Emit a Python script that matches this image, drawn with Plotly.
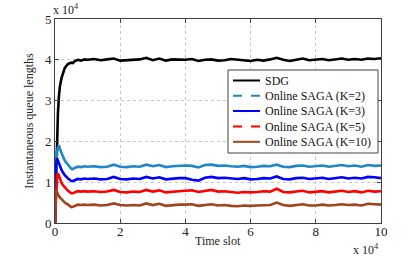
import plotly.graph_objects as go

# time slots
x_early = [0, 300, 600, 900, 1200, 1500, 2000, 2500, 3000, 4000, 5000, 5500, 6000, 7000, 8000, 9000]
x_late = list(range(10000, 100001, 2000))
time_slot = x_early + x_late

sdg = [0, 9000, 20000, 27000, 31000, 33500, 35500, 37000, 38000, 39000, 39300, 39200, 39600, 40000, 39800, 40100,
       40000, 40200, 39900, 40100, 40300, 39800, 39900, 40000, 40100, 40500,
       39900, 40300, 39800, 40100, 40000, 40000, 40200, 39700, 40000, 40100,
       39800, 39900, 40200, 40000, 39800, 39700, 40000, 39800, 40100, 40500,
       40000, 39700, 40000, 40300, 39900, 40000, 40200, 39900, 40100, 40300,
       40000, 40200, 40000, 40300, 40200, 40400]

saga_k2 = [0, 12000, 17500, 18500, 19000, 18200, 17000, 16200, 15300, 14200, 13300, 13200, 13500, 13800, 13700, 13900,
           13800, 13900, 13700, 13800, 14300, 13800, 13700, 13900, 13800, 14300,
           13900, 14200, 13700, 13900, 14000, 14100, 14000, 13600, 14200, 14300,
           14000, 14100, 13900, 13800, 14000, 13700, 13800, 14000, 13900, 14300,
           13800, 13700, 14000, 14100, 13800, 13900, 14100, 13800, 14000, 14200,
           13900, 14100, 13800, 14200, 14000, 14100]

saga_k3 = [0, 14000, 15900, 15300, 14500, 13800, 13000, 12300, 11700, 10900, 10300, 10300, 10500, 10800, 10700, 10900,
           10800, 10900, 10700, 10800, 11300, 10800, 10700, 10900, 10800, 11300,
           10900, 11200, 10700, 10900, 11000, 11000, 10600, 10400, 11100, 11300,
           11000, 11100, 10900, 10800, 11000, 10700, 10800, 11000, 10900, 11400,
           10800, 10700, 11000, 11100, 10800, 10900, 11100, 10800, 11000, 11200,
           10900, 11100, 10900, 11300, 11200, 11000]

saga_k5 = [0, 9000, 11500, 12200, 11500, 10800, 9800, 9200, 8700, 7900, 7300, 7300, 7500, 7800, 7700, 7800,
           7700, 7800, 7600, 7700, 8100, 7600, 7500, 7700, 7600, 8100,
           7700, 8000, 7500, 7700, 7800, 7900, 8000, 7600, 7800, 8100,
           7700, 7800, 7600, 7400, 7600, 7500, 7600, 7800, 7700, 8400,
           7600, 7500, 7700, 7900, 7500, 7600, 7800, 7500, 7700, 7900,
           7600, 7800, 7500, 7900, 7700, 7800]

saga_k10 = [0, 8000, 7600, 7000, 6600, 6300, 5800, 5400, 5000, 4500, 3900, 4000, 4200, 4500, 4400, 4500,
            4400, 4500, 4300, 4400, 4800, 4400, 4300, 4400, 4300, 4800,
            4400, 4700, 4200, 4400, 4500, 4500, 4600, 4200, 4400, 4600,
            4300, 4400, 4200, 4100, 4300, 4200, 4300, 4400, 4400, 5000,
            4400, 4200, 4400, 4600, 4300, 4300, 4500, 4300, 4400, 4600,
            4400, 4500, 4300, 4700, 4600, 4500]

x_tickvals = [0, 20000, 40000, 60000, 80000, 100000]
x_ticktext = ["0", "2", "4", "6", "8", "10"]
y_tickvals = [0, 10000, 20000, 30000, 40000, 50000]
y_ticktext = ["0", "1", "2", "3", "4", "5"]

series_names = ["SDG", "Online SAGA (K=2)", "Online SAGA (K=3)", "Online SAGA (K=5)", "Online SAGA (K=10)"]
series_values = [sdg, saga_k2, saga_k3, saga_k5, saga_k10]
series_colors = ["#000000", "#1f86c8", "#0000ff", "#ff0000", "#a0441c"]
series_dashes = ["solid", "dash", "solid", "dash", "solid"]

font_family = "Liberation Serif, Times New Roman, DejaVu Serif, serif"
txt_font = dict(family=font_family, size=12, color="#222")

fig = go.Figure()
for name, vals, color in zip(series_names, series_values, series_colors):
    fig.add_trace(go.Scatter(x=time_slot, y=vals, mode="lines", name=name, showlegend=False,
                             line=dict(color=color, width=2.6)))

# --- legend box (drawn manually to match the compact MATLAB legend) ---
W, H = 420, 256
L, R, T, B = 55, 39, 19, 33
pw, ph = W - L - R, H - T - B
def px(xp):
    return (xp - L) / pw
def py(yp):
    return (H - B - yp) / ph

shapes = [dict(type="rect", xref="paper", yref="paper", x0=px(228), x1=px(378), y0=py(153), y1=py(70),
               fillcolor="white", line=dict(color="#404040", width=1), layer="above")]
annotations = []
row_y = [80.5, 95.8, 111.0, 126.5, 141.8]
for name, color, dash, ry in zip(series_names, series_colors, series_dashes, row_y):
    shapes.append(dict(type="line", xref="paper", yref="paper", x0=px(233), x1=px(260), y0=py(ry), y1=py(ry),
                       line=dict(color=color, width=2, dash=dash), layer="above"))
    annotations.append(dict(text=name, x=px(263), y=py(ry), xref="paper", yref="paper",
                            xanchor="left", yanchor="middle", showarrow=False,
                            font=dict(family=font_family, size=12, color="#111")))

annotations += [
    dict(text="Time slot", x=0.5, y=py(241), xref="paper", yref="paper", xanchor="center", yanchor="middle",
         showarrow=False, font=txt_font),
    dict(text="x 10<sup>4</sup>", x=0, y=1, xref="paper", yref="paper", xanchor="left", yanchor="bottom",
         showarrow=False, font=txt_font, xshift=-4, yshift=0),
    dict(text="x 10<sup>4</sup>", x=1, y=py(249), xref="paper", yref="paper", xanchor="right", yanchor="middle",
         showarrow=False, font=txt_font),
]

axis_common = dict(showline=True, linecolor="#404040", linewidth=1, mirror="ticks",
                   ticks="inside", ticklen=4, tickcolor="#404040",
                   showgrid=True, gridcolor="#c8c8c8", griddash="dot", gridwidth=1,
                   zeroline=False, tickfont=dict(family=font_family, size=13, color="#222"))

fig.update_layout(
    width=W, height=H,
    margin=dict(l=L, r=R, t=T, b=B),
    paper_bgcolor="white", plot_bgcolor="white",
    font=dict(family=font_family, size=12, color="#222"),
    showlegend=False,
    xaxis=dict(range=[0, 100000], tickvals=x_tickvals, ticktext=x_ticktext, ticklabelstandoff=-4,
               **axis_common),
    yaxis=dict(range=[0, 50000], tickvals=y_tickvals, ticktext=y_ticktext,
               title=dict(text="Instantaneous queue lengths", font=dict(family=font_family, size=12), standoff=8),
               **axis_common),
    shapes=shapes,
    annotations=annotations,
)

fig.write_html("out.html", config={"displayModeBar": False},
               post_script="document.body.style.margin='0';")
